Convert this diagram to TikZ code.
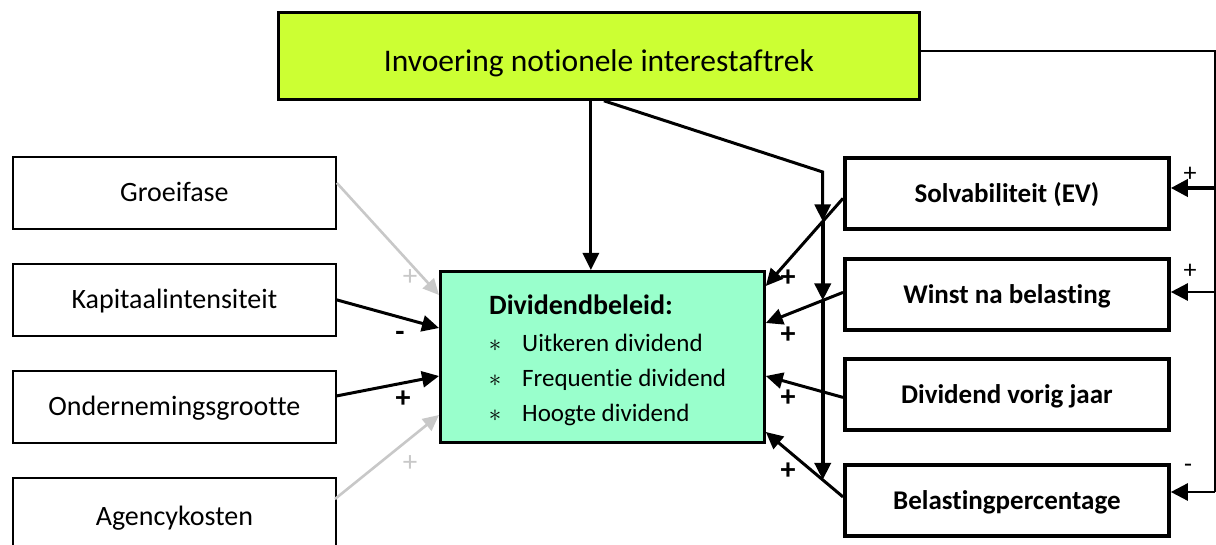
\documentclass[tikz,border=0pt]{standalone}
\usepackage{fontspec}
\setmainfont{Carlito}[Ligatures=NoCommon, RawFeature={-liga;-clig;-calt;-dlig}]
\usetikzlibrary{arrows.meta,calc}
\definecolor{titlefill}{HTML}{CCFF33}
\definecolor{divfill}{HTML}{99FFCC}
\definecolor{soft}{HTML}{C8C8C8}

\begin{document}
\begin{tikzpicture}[x=1pt,y=-1pt,
  lbox/.style={draw, line width=1.8pt, anchor=north west, minimum width=323pt,
    minimum height=72pt, inner sep=0pt, text height=18pt, text depth=0pt,
    font=\fontsize{28pt}{30pt}\selectfont},
  rbox/.style={draw, line width=3.8pt, anchor=north west, minimum width=324pt,
    minimum height=71pt, inner sep=0pt, text height=19pt, text depth=0pt,
    font=\fontsize{27pt}{30pt}\selectfont\bfseries},
  item/.style={anchor=base west, inner sep=0pt, font=\fontsize{25pt}{28pt}\selectfont},
  bullet/.style={anchor=base, inner sep=0pt, font=\fontsize{25pt}{28pt}\selectfont},
  arr/.style={line width=3pt, -{Triangle[length=17pt,width=16pt]}},
  garr/.style={line width=2.6pt, draw=soft, -{Triangle[length=16pt,width=15pt,fill=soft]}},
  fb/.style={line width=2.5pt},
  fbarr/.style={line width=2.5pt, -{Triangle[length=17pt,width=17pt]}},
  sign/.style={inner sep=0pt, font=\fontsize{30pt}{32pt}\selectfont\bfseries},
  gsign/.style={inner sep=0pt, text=soft, font=\fontsize{29pt}{31pt}\selectfont},
  ssign/.style={inner sep=0pt, font=\fontsize{26pt}{28pt}\selectfont}]

\useasboundingbox (0,0) rectangle (1216,545);

% central question
\node[draw, line width=2.8pt, fill=titlefill, anchor=north west, minimum width=641pt,
  minimum height=87pt, inner sep=0pt, text height=31pt, text depth=0pt,
  font=\fontsize{31.5pt}{34pt}\selectfont] (title) at (277,11)
  {Invoering notionele interestaftrek};

% left-hand factors
\node[lbox] (groei) at (12,156) {Groeifase};
\node[lbox] (kapit) at (12,263) {Kapitaalintensiteit};
\node[lbox] (onder) at (12,370) {Ondernemingsgrootte};
\node[lbox, minimum height=75pt, text height=21pt] (agency) at (12,477) {Agencykosten};

% right-hand factors
\node[rbox] (solv) at (843,156) {Solvabiliteit (EV)};
\node[rbox] (winst) at (843,257) {Winst na belasting};
\node[rbox] (vorig) at (843,357) {Dividend vorig jaar};
\node[rbox] (belast) at (843,463) {Belastingpercentage};

% dividend policy
\node[draw, line width=2.8pt, fill=divfill, anchor=north west, minimum width=324pt,
  minimum height=171pt, inner sep=0pt] (div) at (439,270) {};
\node[anchor=base west, inner sep=0pt, font=\fontsize{28pt}{30pt}\selectfont\bfseries]
  (divhead) at (489,315) {Dividendbeleid:};
\node[bullet] (b1) at (495,352) {$\ast$};
\node[bullet] (b2) at (495,387) {$\ast$};
\node[bullet] (b3) at (495,421) {$\ast$};
\node[item] (i1) at (522,352) {Uitkeren dividend};
\node[item] (i2) at (522,387) {Frequentie dividend};
\node[item] (i3) at (522,421) {Hoogte dividend};

% left arrows
\draw[garr] ([yshift=10pt]groei.east) -- ($(div.north west)+(0,25)$);
\draw[arr] (kapit.east) -- ($(div.north west)+(0,58)$);
\draw[arr] ([yshift=11pt]onder.east) -- ($(div.north west)+(0,106)$);
\coordinate (agOut) at (335,499);
\draw[garr] (agOut) -- ($(div.north west)+(0,145)$);

\node[gsign] (lg1) at (410,278) {+};
\node[sign] (ls2) at (400,336) {-};
\node[sign] (ls3) at (403,399) {+};
\node[gsign] (lg4) at (410,464) {+};

% right arrows into the policy box
\coordinate (sA) at ([yshift=-5pt]solv.west);
\coordinate (sB) at ($(div.north east)+(0,16)$);
\coordinate (wA) at ([yshift=2pt]winst.west);
\coordinate (wB) at ($(div.north east)+(0,53)$);
\coordinate (vA) at ([yshift=-3pt]vorig.west);
\coordinate (vB) at ($(div.north east)+(0,106)$);
\coordinate (bA) at ([yshift=3.5pt]belast.west);
\coordinate (bB) at ($(div.north east)+(0,162)$);
\draw[arr] (sA) -- (sB);
\draw[arr] (wA) -- (wB);
\draw[arr] (vA) -- (vB);
\draw[arr] (bA) -- (bB);

\node[sign] (rs1) at (788,278) {+};
\node[sign] (rs2) at (788,335) {+};
\node[sign] (rs3) at (788,398) {+};
\node[sign] (rs4) at (788,471) {+};

% direct effect of the reform
\coordinate (tA) at ([xshift=-8pt]title.south);
\draw[arr] (tA) -- (div.north -| tA);

% moderating effect on the right-hand relations
\coordinate (tB) at ([xshift=5pt]title.south);
\path (sA) -- (sB) coordinate[pos=0.2625] (m1);
\path (wA) -- (wB) coordinate[pos=0.2625] (m2);
\path (bA) -- (bB) coordinate[pos=0.2625] (m3);
\coordinate (kink) at (m1 |- 0,172);
\draw[arr] (tB) -- (kink) -- (m1);
\draw[arr, line width=3.8pt] (m1) -- (m2);
\draw[arr, line width=3.8pt] (m2) -- (m3);

% feedback on the right
\coordinate (fbTop) at (1215,51);
\coordinate (fbS) at (1215,188);
\coordinate (fbW) at (1215,292);
\coordinate (fbB) at (1215,492);
\draw[fb] (title.east |- fbTop) -- (fbTop) -- (fbB);
\draw[fbarr, line width=3.8pt] (fbS) -- (solv.east |- fbS);
\draw[fbarr] (fbW) -- (winst.east |- fbW);
\draw[fbarr] (fbB) -- (belast.east |- fbB);

\node[ssign] (fs1) at (1190,174) {+};
\node[ssign] (fs2) at (1190,271) {+};
\node[ssign] (fs3) at (1188,468) {-};
\end{tikzpicture}
\end{document}
